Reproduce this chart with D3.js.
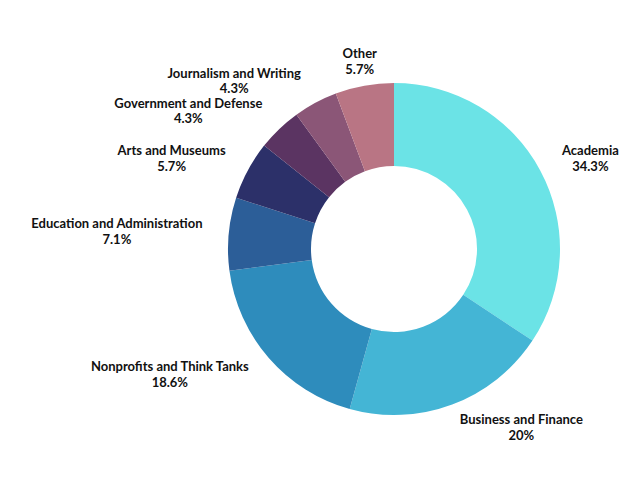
<!DOCTYPE html>
<html>
<head>
<meta charset="utf-8">
<script src="https://cdn.jsdelivr.net/npm/d3@7"></script>
<style>
  html, body { margin: 0; padding: 0; background: #fff; }
  .slice-label { font-family: Lato, "Open Sans", sans-serif; font-weight: 700; font-size: 13px; fill: #111; }
</style>
</head>
<body>
<div id="chart"></div>
<script>
const categories = ['Academia', 'Business and Finance', 'Nonprofits and Think Tanks',
    'Education and Administration', 'Arts and Museums', 'Government and Defense',
    'Journalism and Writing', 'Other'];
const shares = [34.3, 20, 18.6, 7.1, 5.7, 4.3, 4.3, 5.7];
const shareLabels = ['34.3%', '20%', '18.6%', '7.1%', '5.7%', '4.3%', '4.3%', '5.7%'];
const colors = ['#6be3e6', '#44b5d5', '#2e8cbc', '#2c5e98', '#2c3069', '#5b3462', '#8b5677', '#b97584'];

// nudges from the label ring so text sits like the original
const labelNudge = [[7, 11], [52, -23], [-62, -16], [-63, 2], [-33, 11], [-57, 17], [-58, 21], [4, 24]];

const width = 640;
const height = 480;
const cx = 394;
const cy = 249;
const outerR = 166;
const innerR = 83;

const data = categories.map((c, i) => ({ name: c, value: shares[i], label: shareLabels[i], i: i }));

const svg = d3.select('#chart')
    .append('svg')
    .attr('width', width)
    .attr('height', height);

const chart = svg.append('g')
    .attr('transform', `translate(${cx},${cy})`);

const pie = d3.pie()
    .value(d => d.value)
    .sort(null);

const arc = d3.arc()
    .innerRadius(innerR)
    .outerRadius(outerR);

const labelArc = d3.arc()
    .innerRadius(215)
    .outerRadius(215);

const color = d3.scaleOrdinal()
    .domain(categories)
    .range(colors);

const arcs = pie(data);

chart.selectAll('.slice')
    .data(arcs)
    .enter()
    .append('path')
    .classed('slice', true)
    .attr('d', arc)
    .attr('fill', d => color(d.data.name));

const labels = chart.selectAll('.slice-label')
    .data(arcs)
    .enter()
    .append('text')
    .classed('slice-label', true)
    .attr('text-anchor', 'middle')
    .attr('transform', d => {
        const [x, y] = labelArc.centroid(d);
        const n = labelNudge[d.data.i];
        return `translate(${x + n[0]},${y + n[1]})`;
    });

labels.append('tspan')
    .attr('x', 0)
    .attr('y', -3)
    .text(d => d.data.name);

labels.append('tspan')
    .attr('x', 0)
    .attr('y', 12.5)
    .text(d => d.data.label);
</script>
</body>
</html>
